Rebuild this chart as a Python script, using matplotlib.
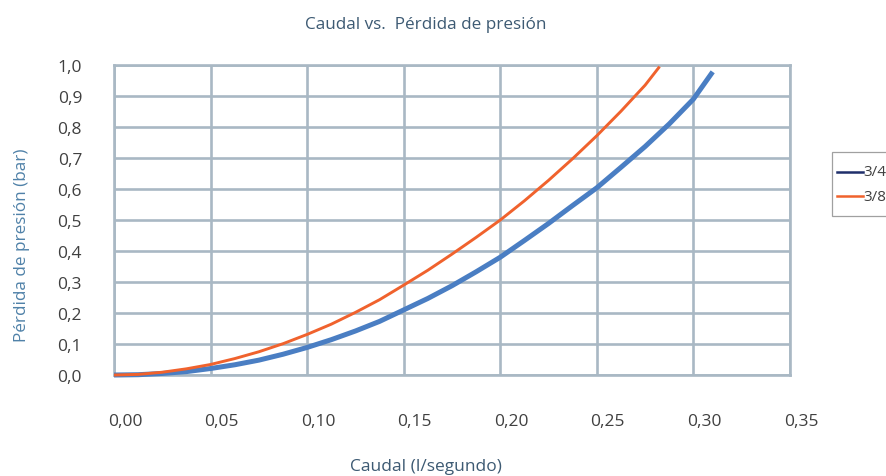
import matplotlib
matplotlib.use("Agg")
import matplotlib.pyplot as plt
import matplotlib.transforms as mtransforms
from matplotlib.lines import Line2D
from matplotlib.patches import Rectangle
import numpy as np

plt.rcParams['font.family'] = ['Open Sans', 'DejaVu Sans']

# caudal (l/s) vs perdida de presion (bar)
x_34 = [0, 0.0125, 0.025, 0.0375, 0.05, 0.0625, 0.075, 0.0875, 0.10, 0.1125, 0.125, 0.1375,
        0.15, 0.1625, 0.175, 0.1875, 0.20, 0.2125, 0.225, 0.2375, 0.25, 0.2625, 0.275,
        0.2875, 0.30, 0.31]
y_34 = [0, 0.001, 0.005, 0.011, 0.021, 0.033, 0.048, 0.067, 0.089, 0.114, 0.142, 0.173,
        0.210, 0.247, 0.288, 0.333, 0.380, 0.434, 0.489, 0.547, 0.604, 0.670, 0.737,
        0.810, 0.890, 0.978]

x_38 = [0, 0.0125, 0.025, 0.0375, 0.05, 0.0625, 0.075, 0.0875, 0.10, 0.1125, 0.125, 0.1375,
        0.15, 0.1625, 0.175, 0.1875, 0.20, 0.2125, 0.225, 0.2375, 0.25, 0.2625, 0.275, 0.2825]
y_38 = [0, 0.002, 0.009, 0.020, 0.034, 0.053, 0.075, 0.101, 0.131, 0.164, 0.202, 0.243,
        0.290, 0.338, 0.390, 0.444, 0.500, 0.562, 0.628, 0.698, 0.772, 0.851, 0.935, 0.995]

series_names = ["3/4", "3/8"]
x_ticks = [0, 0.05, 0.10, 0.15, 0.20, 0.25, 0.30, 0.35]
y_ticks = [0, 0.1, 0.2, 0.3, 0.4, 0.5, 0.6, 0.7, 0.8, 0.9, 1.0]

grid_col = "#A9B8C4"
blue = "#4A7EC3"
orange = "#F0622D"
navy = "#1F2F6B"
txt_col = "#3D5A73"

fig = plt.figure(figsize=(8.86, 4.77), dpi=100)
ax = fig.add_axes([0.1287, 0.2117, 0.7629, 0.6499])

ax.plot(x_34, y_34, color=blue, lw=3.6, solid_capstyle='butt', solid_joinstyle='round',
        clip_on=False, zorder=3)
ax.plot(x_38, y_38, color=orange, lw=2.1, solid_capstyle='butt', solid_joinstyle='round',
        clip_on=False, zorder=4)

ax.set_xlim(0, 0.35)
ax.set_ylim(0, 1.0)
ax.set_xticks(x_ticks)
ax.set_yticks(y_ticks)
ax.set_xticklabels([f"{v:.2f}".replace(".", ",") for v in x_ticks])
ax.set_yticklabels([f"{v:.1f}".replace(".", ",") for v in y_ticks])
ax.tick_params(axis='x', length=0, pad=27, labelsize=12.5, labelcolor="#404040")
ax.tick_params(axis='y', length=0, pad=23, labelsize=12.5, labelcolor="#404040")
# excel puts the x labels a bit to the right of the gridlines
shift = mtransforms.ScaledTranslation(0.11, 0, fig.dpi_scale_trans)
for lab in ax.get_xticklabels():
    lab.set_transform(lab.get_transform() + shift)

ax.grid(True, color=grid_col, lw=1.9)
ax.set_axisbelow(True)
for s in ax.spines.values():
    s.set_color(grid_col)
    s.set_linewidth(1.9)

fig.text(0.48, 0.947, "Caudal vs.  Pérdida de presión", ha='center', va='center',
         fontsize=12.3, color=txt_col)
fig.text(0.481, 0.021, "Caudal (l/segundo)", ha='center', va='center',
         fontsize=12.5, color=txt_col)
fig.text(0.025, 0.486, "Pérdida de presión (bar)", ha='center', va='center',
         rotation=90, fontsize=12.3, color="#4F81A8")

# legend box, cut off at the right edge like the original
fig.patches.append(Rectangle((0.939, 0.5444), 0.1, 0.1354, transform=fig.transFigure,
                             facecolor='white', edgecolor="#A0A0A0", lw=0.9))
for i, (name, col) in enumerate(zip(series_names, [navy, orange])):
    yy = 0.638 - i * 0.0516
    fig.lines.append(Line2D([0.9447, 0.974], [yy, yy], color=col, lw=1.8,
                            transform=fig.transFigure))
    fig.text(0.974, yy, name, ha='left', va='center', fontsize=11, color="#404040")

fig.savefig("out.png", dpi=100)
